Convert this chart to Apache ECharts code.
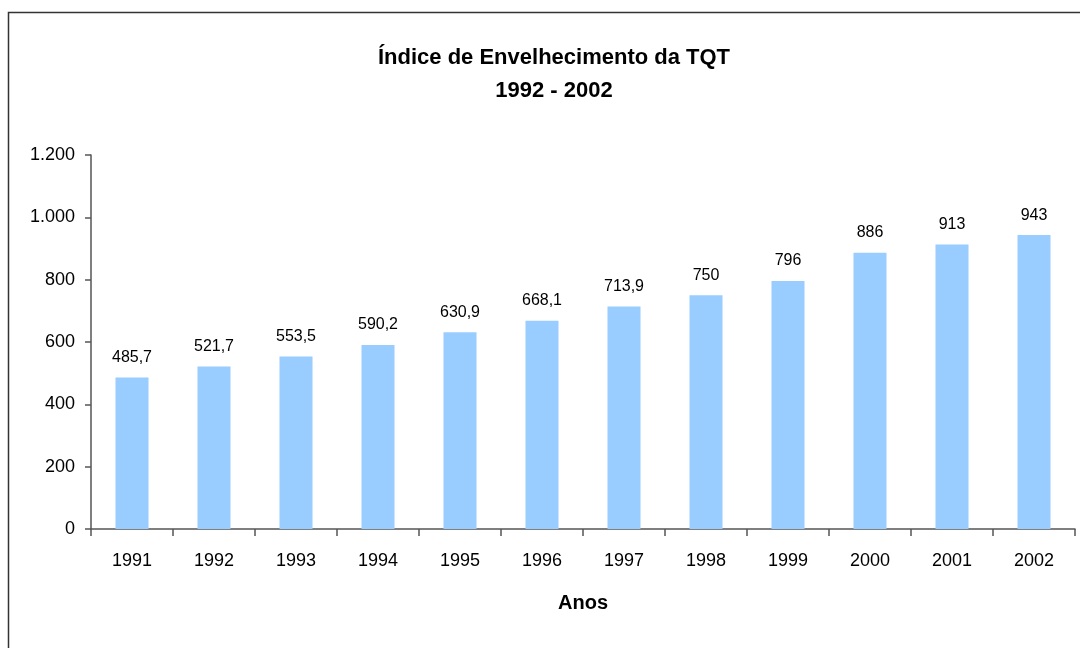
<!DOCTYPE html>
<html><head><meta charset="utf-8">
<script src="https://cdn.jsdelivr.net/npm/echarts@6/dist/echarts.min.js"></script>
<style>html,body{margin:0;padding:0;background:#fff}#c{width:1080px;height:648px}</style>
</head><body><div id="c"></div>
<script>
var categories = ['1991','1992','1993','1994','1995','1996','1997','1998','1999','2000','2001','2002'];
var values = [485.7, 521.7, 553.5, 590.2, 630.9, 668.1, 713.9, 750, 796, 886, 913, 943];
var yTicks = [0, 200, 400, 600, 800, 1000, 1200];
var titleLines = ['Índice de Envelhecimento da TQT', '1992 - 2002'];
var xName = 'Anos';

var FONT = "'Liberation Sans Narrow', 'Liberation Sans', Arial, sans-serif";
function fmtNum(v){
  var s = String(v).replace('.', ',');
  var parts = s.split(',');
  parts[0] = parts[0].replace(/\B(?=(\d{3})+(?!\d))/g, '.');
  return parts.join(',');
}
var chart = echarts.init(document.getElementById('c'), null, {renderer:'canvas'});
chart.setOption({
  animation:false,
  backgroundColor:'#fff',
  title:{
    text: titleLines.join('\n'),
    left: 549, top: 36, textAlign:'center',
    textStyle:{fontFamily:FONT, fontWeight:'bold', fontSize:22, color:'#000', lineHeight:33}
  },
  graphic:[{type:'rect', shape:{x:8.5,y:12.5,width:1200,height:800}, style:{fill:null, stroke:'#333', lineWidth:1.5}, silent:true, z:-1}],
  grid:{left:91, right:5, top:155, bottom:119, containLabel:false},
  xAxis:{
    type:'category', data:categories,
    name:xName, nameLocation:'middle', nameGap:64,
    nameTextStyle:{fontFamily:FONT, fontWeight:'bold', fontSize:20, color:'#000'},
    axisLine:{lineStyle:{color:'#555', width:1.5}},
    axisTick:{show:true, length:7, alignWithLabel:false, lineStyle:{color:'#555', width:1.5}},
    axisLabel:{fontFamily:FONT, fontSize:18, color:'#000', margin:23}
  },
  yAxis:{
    type:'value', min:0, max:1200, interval:200,
    axisLine:{show:true, lineStyle:{color:'#555', width:1.5}},
    axisTick:{show:true, length:6, lineStyle:{color:'#555', width:1.5}},
    splitLine:{show:false},
    axisLabel:{fontFamily:FONT, fontSize:18, color:'#000', margin:16,
      formatter:function(v){ return yTicks.indexOf(v)>=0 ? fmtNum(v) : ''; }}
  },
  series:[{
    type:'bar', data:values, barWidth:33,
    itemStyle:{color:'#99CCFF'},
    label:{show:true, position:'top', distance:12, fontFamily:FONT, fontSize:16, color:'#000',
      formatter:function(p){ return fmtNum(p.value); }}
  }]
});
</script></body></html>
